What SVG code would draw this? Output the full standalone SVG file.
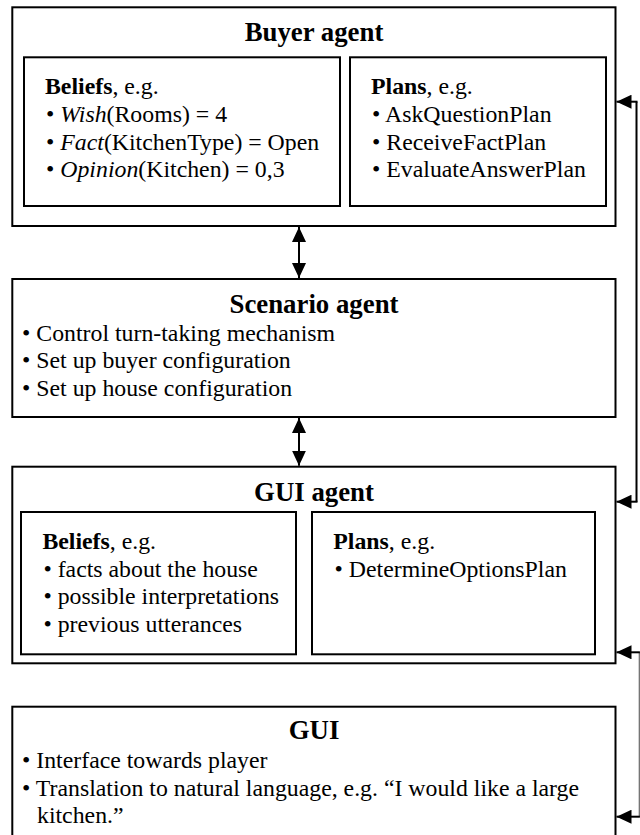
<svg xmlns="http://www.w3.org/2000/svg" width="640" height="835" viewBox="0 0 640 835">
<style>
  .box { fill: #ffffff; stroke: #000000; stroke-width: 2; }
  .t { font-family: "Liberation Serif", "Times New Roman", serif; font-size: 23.8px; fill: #000000; }
  .title { font-family: "Liberation Serif", "Times New Roman", serif; font-size: 26.8px; font-weight: bold; fill: #000000; text-anchor: middle; }
  .b { font-weight: bold; }
  .i { font-style: italic; }
  .conn { fill: none; stroke: #000000; stroke-width: 2; }
  .thin { fill: none; stroke: #666666; stroke-width: 1.2; }
</style>
<defs>
  <marker id="ah" markerUnits="userSpaceOnUse" markerWidth="16" markerHeight="14" refX="15" refY="7" orient="auto-start-reverse" viewBox="0 0 16 14">
    <path d="M0,0 L15,7 L0,14 z" fill="#000000"/>
  </marker>
</defs>
<rect width="640" height="835" fill="#ffffff"/>

<g id="buyer-agent">
  <rect class="box" x="12.3" y="7.3" width="603.2" height="218.7"/>
  <text class="title" x="314" y="40.7">Buyer agent</text>
  <g id="buyer-beliefs">
    <rect class="box" x="24" y="57.3" width="316" height="148.7"/>
    <text class="t" x="45" y="94.3"><tspan class="b">Beliefs</tspan>, e.g.</text>
    <text class="t" x="46" y="122"><tspan>• </tspan><tspan class="i">Wish</tspan>(Rooms) = 4</text>
    <text class="t" x="46" y="149.7"><tspan>• </tspan><tspan class="i">Fact</tspan>(KitchenType) = Open</text>
    <text class="t" x="46" y="177.4"><tspan>• </tspan><tspan class="i">Opinion</tspan>(Kitchen) = 0,3</text>
  </g>
  <g id="buyer-plans">
    <rect class="box" x="350" y="57.3" width="256" height="148.7"/>
    <text class="t" x="371" y="94.3"><tspan class="b">Plans</tspan>, e.g.</text>
    <text class="t" x="372" y="122">• AskQuestionPlan</text>
    <text class="t" x="372" y="149.7">• ReceiveFactPlan</text>
    <text class="t" x="372" y="177.4">• EvaluateAnswerPlan</text>
  </g>
</g>

<g id="scenario-agent">
  <rect class="box" x="12.3" y="279" width="603.2" height="138"/>
  <text class="title" x="314" y="312.7">Scenario agent</text>
  <text class="t" x="22" y="341">• Control turn-taking mechanism</text>
  <text class="t" x="22" y="368.3">• Set up buyer configuration</text>
  <text class="t" x="22" y="395.7">• Set up house configuration</text>
</g>

<g id="gui-agent">
  <rect class="box" x="12.3" y="466.7" width="603.2" height="196.6"/>
  <text class="title" x="314" y="500.7">GUI agent</text>
  <g id="gui-beliefs">
    <rect class="box" x="21" y="512" width="275" height="142.3"/>
    <text class="t" x="42.4" y="549.3"><tspan class="b">Beliefs</tspan>, e.g.</text>
    <text class="t" x="43.4" y="576.7">• facts about the house</text>
    <text class="t" x="43.4" y="604.3">• possible interpretations</text>
    <text class="t" x="43.4" y="632">• previous utterances</text>
  </g>
  <g id="gui-plans">
    <rect class="box" x="312" y="512" width="283" height="142.3"/>
    <text class="t" x="333.3" y="549.3"><tspan class="b">Plans</tspan>, e.g.</text>
    <text class="t" x="334.5" y="576.7">• DetermineOptionsPlan</text>
  </g>
</g>

<g id="gui">
  <rect class="box" x="12.3" y="706.7" width="603.2" height="140"/>
  <text class="title" x="314" y="739">GUI</text>
  <text class="t" x="22" y="767.7">• Interface towards player</text>
  <text class="t" x="22" y="795.7">• Translation to natural language, e.g. “I would like a large</text>
  <text class="t" x="37" y="823.3">kitchen.”</text>
</g>

<g id="connectors">
  <line class="conn" x1="299" y1="227" x2="299" y2="278" marker-start="url(#ah)" marker-end="url(#ah)"/>
  <line class="conn" x1="299" y1="418" x2="299" y2="465.7" marker-start="url(#ah)" marker-end="url(#ah)"/>
  <path class="conn" d="M636.5,101.7 L636.5,501.7"/>
  <line class="conn" x1="637.5" y1="101.7" x2="616.5" y2="101.7" marker-end="url(#ah)"/>
  <line class="conn" x1="637.5" y1="501.7" x2="616.5" y2="501.7" marker-end="url(#ah)"/>
  <path class="thin" d="M639.3,652.3 L639.3,816.7"/>
  <line class="conn" x1="639.9" y1="652.3" x2="616.5" y2="652.3" marker-end="url(#ah)"/>
  <line class="conn" x1="639.9" y1="816.7" x2="616.5" y2="816.7" marker-end="url(#ah)"/>
</g>
</svg>
